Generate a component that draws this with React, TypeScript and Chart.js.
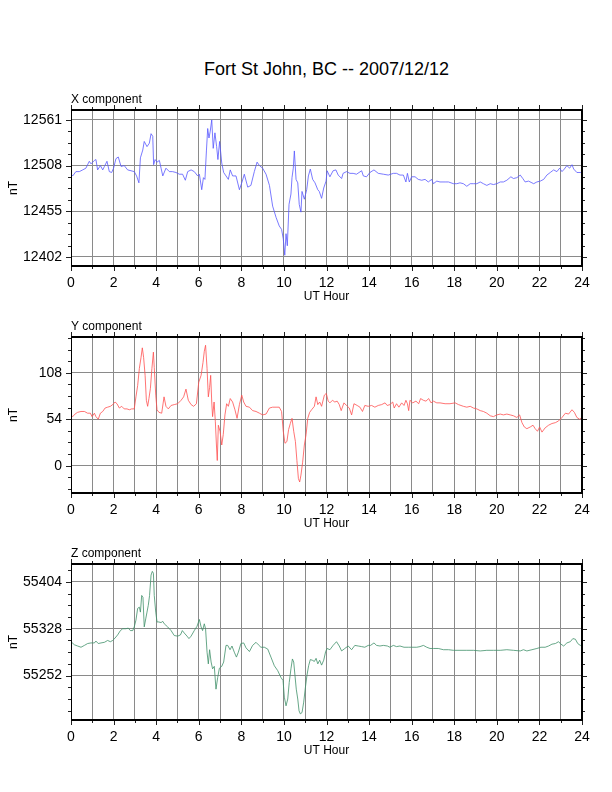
import React, { useEffect, useRef } from "react";
import { Chart, registerables } from "chart.js";

Chart.register(...registerables);
Chart.defaults.font.family = '"Liberation Sans", Arial, Helvetica, sans-serif';
Chart.defaults.color = "#000";

const TITLE = "Fort St John, BC -- 2007/12/12";

// [UT hour, nT]
const xComponent: [number, number][] = [
  [0, 12498], [0.08, 12496], [0.23, 12501], [0.39, 12501], [0.55, 12503], [0.7, 12505], [0.86, 12513],
  [0.94, 12510], [1.1, 12514], [1.17, 12515], [1.25, 12503], [1.38, 12508], [1.49, 12503], [1.57, 12507],
  [1.69, 12513], [1.8, 12501], [1.91, 12500], [2.0, 12505], [2.11, 12516], [2.22, 12518], [2.35, 12507],
  [2.5, 12508], [2.66, 12503], [2.82, 12502], [2.97, 12501], [3.08, 12496], [3.19, 12488], [3.26, 12517],
  [3.37, 12526], [3.44, 12536], [3.57, 12530], [3.68, 12534], [3.76, 12545], [3.84, 12542], [3.88, 12509],
  [3.95, 12515], [4.04, 12512], [4.15, 12514], [4.23, 12505], [4.31, 12496], [4.46, 12505], [4.62, 12501],
  [4.77, 12501], [4.93, 12500], [5.09, 12498], [5.24, 12498], [5.37, 12491], [5.48, 12501], [5.64, 12503],
  [5.79, 12501], [5.95, 12496], [6.03, 12498], [6.14, 12480], [6.22, 12494], [6.29, 12492], [6.36, 12525],
  [6.42, 12551], [6.48, 12540], [6.54, 12548], [6.61, 12561], [6.68, 12528], [6.76, 12546], [6.84, 12530],
  [6.9, 12515], [6.98, 12536], [7.08, 12511], [7.17, 12500], [7.28, 12496], [7.39, 12492], [7.48, 12503],
  [7.59, 12496], [7.75, 12496], [7.91, 12480], [8.02, 12488], [8.14, 12498], [8.3, 12483], [8.45, 12485],
  [8.61, 12501], [8.74, 12512], [8.85, 12508], [9.0, 12505], [9.16, 12498], [9.32, 12485], [9.47, 12461],
  [9.63, 12448], [9.78, 12438], [9.89, 12434], [9.97, 12423], [10.04, 12404], [10.1, 12429], [10.16, 12415],
  [10.24, 12463], [10.33, 12475], [10.38, 12494], [10.44, 12505], [10.49, 12525], [10.57, 12492],
  [10.65, 12488], [10.72, 12463], [10.8, 12454], [10.85, 12478], [10.96, 12469], [11.07, 12480],
  [11.15, 12496], [11.24, 12504], [11.35, 12492], [11.46, 12488], [11.59, 12480], [11.66, 12478],
  [11.77, 12470], [11.87, 12482], [11.98, 12490], [12.03, 12502], [12.16, 12495], [12.31, 12502],
  [12.44, 12503], [12.55, 12497], [12.71, 12493], [12.78, 12499], [12.94, 12501], [13.1, 12499],
  [13.25, 12499], [13.41, 12498], [13.65, 12502], [13.73, 12496], [13.88, 12495], [14.04, 12500],
  [14.23, 12503], [14.43, 12499], [14.67, 12498], [14.9, 12497], [15.14, 12499], [15.29, 12499],
  [15.45, 12497], [15.61, 12497], [15.73, 12489], [15.8, 12499], [15.89, 12489], [16.0, 12495],
  [16.16, 12495], [16.31, 12492], [16.47, 12491], [16.63, 12492], [16.78, 12489], [16.94, 12492],
  [17.02, 12487], [17.18, 12490], [17.33, 12489], [17.57, 12489], [17.73, 12489], [17.96, 12487],
  [18.12, 12487], [18.27, 12488], [18.43, 12487], [18.59, 12484], [18.75, 12487], [18.9, 12487],
  [19.06, 12487], [19.22, 12489], [19.37, 12487], [19.53, 12485], [19.69, 12487], [19.84, 12486],
  [20.0, 12487], [20.16, 12489], [20.31, 12489], [20.47, 12491], [20.66, 12495], [20.78, 12493],
  [20.94, 12494], [21.1, 12497], [21.22, 12493], [21.33, 12489], [21.49, 12490], [21.65, 12488],
  [21.73, 12487], [21.88, 12489], [22.04, 12490], [22.2, 12492], [22.35, 12497], [22.51, 12500],
  [22.67, 12503], [22.82, 12501], [22.95, 12505], [23.06, 12501], [23.17, 12504], [23.29, 12508],
  [23.42, 12505], [23.53, 12509], [23.61, 12504], [23.76, 12500], [23.92, 12500], [24.0, 12500],
];

const yComponent: [number, number][] = [
  [0, 59], [0.08, 57], [0.19, 60], [0.31, 62], [0.47, 63], [0.63, 63], [0.78, 61], [0.91, 61], [0.99, 57],
  [1.1, 61], [1.17, 57], [1.28, 54], [1.38, 61], [1.49, 63], [1.6, 67], [1.72, 68], [1.85, 69], [1.96, 71],
  [2.07, 74], [2.16, 72], [2.27, 67], [2.38, 69], [2.5, 66], [2.63, 66], [2.74, 65], [2.85, 66], [2.97, 66],
  [3.05, 80], [3.13, 93], [3.21, 113], [3.29, 126], [3.35, 137], [3.41, 126], [3.48, 105], [3.54, 76],
  [3.6, 69], [3.66, 78], [3.73, 90], [3.8, 113], [3.87, 132], [3.91, 114], [3.98, 82], [4.04, 65],
  [4.13, 62], [4.26, 61], [4.37, 80], [4.46, 69], [4.57, 66], [4.7, 70], [4.85, 71], [5.01, 72], [5.17, 76],
  [5.29, 80], [5.4, 89], [5.51, 76], [5.64, 71], [5.76, 69], [5.89, 72], [6.0, 97], [6.11, 105], [6.2, 120],
  [6.26, 133], [6.32, 140], [6.39, 113], [6.45, 80], [6.51, 91], [6.56, 105], [6.61, 74], [6.65, 57],
  [6.72, 74], [6.78, 51], [6.83, 24], [6.87, 6], [6.92, 47], [7.0, 40], [7.08, 24], [7.15, 36], [7.23, 59],
  [7.31, 72], [7.39, 69], [7.48, 78], [7.59, 74], [7.7, 65], [7.8, 55], [7.91, 71], [8.02, 82], [8.11, 74],
  [8.22, 69], [8.38, 68], [8.53, 64], [8.69, 63], [8.85, 61], [9.0, 59], [9.16, 60], [9.32, 67], [9.47, 68],
  [9.63, 68], [9.78, 68], [9.89, 63], [9.97, 40], [10.05, 26], [10.14, 28], [10.22, 42], [10.3, 49],
  [10.38, 55], [10.46, 40], [10.54, 28], [10.61, 6], [10.68, -15], [10.74, -19], [10.8, -11], [10.88, 4],
  [10.96, 24], [11.04, 36], [11.12, 55], [11.21, 62], [11.3, 65], [11.43, 69], [11.51, 80], [11.59, 71],
  [11.68, 74], [11.77, 69], [11.9, 82], [11.99, 84], [12.08, 75], [12.16, 73], [12.28, 76], [12.39, 74],
  [12.5, 75], [12.6, 71], [12.69, 64], [12.82, 73], [12.94, 70], [13.07, 67], [13.18, 59], [13.29, 72],
  [13.44, 70], [13.57, 68], [13.69, 63], [13.8, 70], [13.96, 69], [14.12, 70], [14.27, 68], [14.43, 70],
  [14.59, 71], [14.75, 73], [14.85, 70], [14.98, 71], [15.11, 74], [15.18, 67], [15.29, 72], [15.4, 68],
  [15.53, 73], [15.64, 70], [15.73, 76], [15.8, 72], [15.86, 64], [15.92, 76], [16.05, 73], [16.2, 75],
  [16.33, 72], [16.42, 78], [16.55, 76], [16.67, 75], [16.8, 78], [16.91, 73], [17.02, 75], [17.18, 73],
  [17.33, 73], [17.57, 72], [17.8, 72], [18.04, 73], [18.2, 71], [18.43, 69], [18.59, 68], [18.75, 69],
  [18.9, 67], [19.06, 66], [19.22, 64], [19.37, 63], [19.53, 61], [19.69, 58], [19.84, 57], [20.0, 59],
  [20.16, 60], [20.31, 59], [20.47, 60], [20.63, 59], [20.78, 58], [20.94, 56], [21.07, 59], [21.18, 50],
  [21.29, 45], [21.41, 43], [21.57, 45], [21.7, 47], [21.8, 43], [21.91, 40], [22.01, 45], [22.12, 39],
  [22.27, 44], [22.43, 47], [22.59, 49], [22.75, 50], [22.9, 52], [23.06, 56], [23.22, 61], [23.37, 60],
  [23.53, 65], [23.64, 62], [23.76, 56], [23.89, 54], [24.0, 56],
];

const zComponent: [number, number][] = [
  [0, 55307], [0.16, 55302], [0.31, 55300], [0.47, 55298], [0.63, 55301], [0.78, 55304], [0.94, 55305],
  [1.1, 55305], [1.17, 55308], [1.28, 55304], [1.41, 55305], [1.57, 55306], [1.72, 55309], [1.85, 55307],
  [1.96, 55309], [2.07, 55313], [2.19, 55318], [2.32, 55325], [2.43, 55328], [2.58, 55328], [2.69, 55329],
  [2.79, 55325], [2.9, 55325], [2.97, 55331], [3.05, 55342], [3.13, 55361], [3.21, 55363], [3.26, 55355],
  [3.32, 55382], [3.38, 55379], [3.44, 55331], [3.51, 55344], [3.57, 55355], [3.63, 55366], [3.69, 55382],
  [3.76, 55415], [3.82, 55421], [3.87, 55418], [3.91, 55382], [3.98, 55355], [4.04, 55339], [4.12, 55339],
  [4.23, 55338], [4.31, 55340], [4.38, 55336], [4.54, 55331], [4.7, 55325], [4.85, 55317], [5.01, 55316],
  [5.14, 55318], [5.23, 55325], [5.32, 55321], [5.45, 55316], [5.54, 55312], [5.64, 55316], [5.79, 55325],
  [5.92, 55332], [6.03, 55343], [6.11, 55331], [6.18, 55325], [6.26, 55336], [6.32, 55328], [6.39, 55290],
  [6.45, 55271], [6.51, 55294], [6.58, 55274], [6.65, 55263], [6.73, 55267], [6.81, 55230], [6.89, 55249],
  [6.97, 55264], [7.08, 55267], [7.17, 55274], [7.28, 55301], [7.36, 55301], [7.47, 55294], [7.56, 55300],
  [7.67, 55290], [7.77, 55282], [7.86, 55290], [7.98, 55304], [8.11, 55305], [8.22, 55297], [8.38, 55291],
  [8.53, 55301], [8.69, 55306], [8.8, 55302], [8.92, 55298], [9.08, 55298], [9.24, 55295], [9.39, 55282],
  [9.55, 55268], [9.71, 55260], [9.86, 55249], [9.96, 55244], [10.02, 55217], [10.1, 55203], [10.18, 55214],
  [10.25, 55241], [10.33, 55263], [10.4, 55279], [10.46, 55274], [10.52, 55252], [10.58, 55230],
  [10.65, 55214], [10.71, 55195], [10.77, 55190], [10.85, 55192], [10.93, 55209], [11.01, 55233],
  [11.08, 55252], [11.16, 55268], [11.24, 55278], [11.33, 55277], [11.43, 55275], [11.51, 55280],
  [11.59, 55271], [11.68, 55277], [11.77, 55269], [11.87, 55277], [11.96, 55291], [12.03, 55296],
  [12.16, 55294], [12.31, 55301], [12.47, 55307], [12.6, 55300], [12.71, 55292], [12.86, 55296],
  [13.02, 55300], [13.18, 55294], [13.33, 55301], [13.49, 55300], [13.65, 55299], [13.8, 55298],
  [13.96, 55301], [14.07, 55301], [14.23, 55305], [14.35, 55301], [14.51, 55300], [14.67, 55301],
  [14.86, 55300], [14.98, 55298], [15.14, 55301], [15.29, 55299], [15.45, 55300], [15.64, 55298],
  [15.84, 55298], [16.0, 55298], [16.24, 55298], [16.39, 55299], [16.55, 55301], [16.71, 55298],
  [16.86, 55296], [17.02, 55296], [17.25, 55296], [17.49, 55294], [17.73, 55294], [17.96, 55293],
  [18.27, 55293], [18.59, 55293], [18.9, 55293], [19.22, 55292], [19.53, 55293], [19.84, 55293],
  [20.16, 55293], [20.47, 55294], [20.78, 55293], [21.1, 55292], [21.25, 55294], [21.41, 55292],
  [21.65, 55294], [21.88, 55296], [22.07, 55298], [22.27, 55298], [22.43, 55300], [22.59, 55303],
  [22.75, 55304], [22.9, 55307], [23.01, 55303], [23.14, 55300], [23.29, 55305], [23.45, 55307],
  [23.57, 55312], [23.69, 55311], [23.8, 55304], [23.92, 55301], [24.0, 55301],
];

// labelled y ticks and visible axis range per panel
const xTicks = [12402, 12455, 12508, 12561];
const yTicks = [0, 54, 108];
const zTicks = [55252, 55328, 55404];
const xRange = [12391.5, 12572.5];
const yRange = [-31.8, 149.6];
const zRange = [55180, 55433];

const CANVAS_H = 227;
const PAD_TOP = 30;
const PLOT_H = 156;
const GRID = "#8a8a8a";

const framePlugin = {
  id: "gsmFrame",
  afterDraw(chart: any, _args: any, opts: any) {
    const { ctx, chartArea, scales } = chart;
    const { left, right, top, bottom } = chartArea;
    const xs = scales.x;
    const ys = scales.y;
    const seg = (x1: number, y1: number, x2: number, y2: number) => {
      ctx.beginPath();
      ctx.moveTo(x1, y1);
      ctx.lineTo(x2, y2);
      ctx.stroke();
    };
    ctx.save();
    ctx.strokeStyle = "#222";
    ctx.lineWidth = 1;
    // hour ticks, top and bottom, outward
    for (let h = 0; h <= 24; h++) {
      const px = Math.round(xs.getPixelForValue(h)) + 0.5;
      const len = h % 2 === 0 ? 5 : 3;
      seg(px, top, px, top - len);
      seg(px, bottom, px, bottom + len);
    }
    // nT ticks, left and right, four minor steps per major
    const majors: number[] = opts.majors;
    const step = (majors[1] - majors[0]) / 4;
    let v = majors[0] - step * Math.floor((majors[0] - ys.min) / step);
    for (; v <= ys.max + 1e-6; v += step) {
      const py = Math.round(ys.getPixelForValue(v)) + 0.5;
      const isMajor = majors.some((m) => Math.abs(m - v) < 1e-6);
      const len = isMajor ? 5 : 3;
      seg(left, py, left - len, py);
      seg(right, py, right + len, py);
    }
    // frame
    ctx.strokeStyle = "#000";
    ctx.lineWidth = 1;
    seg(left + 0.5, top, left + 0.5, bottom);
    ctx.lineWidth = 2;
    seg(left, top, right + 1, top);
    seg(left, bottom, right + 1, bottom);
    seg(right, top, right, bottom);
    // panel label
    ctx.fillStyle = "#000";
    ctx.font = '12px "Liberation Sans", Arial, sans-serif';
    ctx.textAlign = "left";
    ctx.textBaseline = "alphabetic";
    ctx.fillText(opts.label, left, top - 7);
    ctx.restore();
  },
};

type PanelProps = {
  top: number;
  label: string;
  series: [number, number][];
  color: string;
  majors: number[];
  range: number[];
};

function Panel({ top, label, series, color, majors, range }: PanelProps) {
  const ref = useRef<HTMLCanvasElement>(null);

  useEffect(() => {
    const ctx = ref.current?.getContext("2d");
    if (!ctx) return;

    const chart = new Chart(ctx, {
      type: "line",
      data: {
        datasets: [
          {
            data: series.map(([h, nt]) => ({ x: h, y: nt })),
            borderColor: color,
            borderWidth: 0.8,
            pointRadius: 0,
            tension: 0,
            fill: false,
          },
        ],
      },
      options: {
        animation: false,
        responsive: false,
        events: [],
        layout: { padding: { top: PAD_TOP, right: 30, left: 0, bottom: 0 } },
        plugins: {
          legend: { display: false },
          tooltip: { enabled: false },
          gsmFrame: { label, majors },
        } as any,
        scales: {
          x: {
            type: "linear",
            min: 0,
            max: 24,
            border: { display: false },
            grid: { color: GRID, lineWidth: 1, drawTicks: false },
            ticks: {
              stepSize: 1,
              padding: 9,
              maxRotation: 0,
              autoSkip: false,
              font: { size: 14 },
              color: "#000",
              callback: (val: any) => (Number(val) % 2 === 0 ? String(val) : ""),
            },
            title: {
              display: true,
              text: "UT Hour",
              font: { size: 12 },
              color: "#000",
              padding: { top: 0, bottom: 3 },
            },
            afterFit: (s: any) => {
              s.height = CANVAS_H - PAD_TOP - PLOT_H;
            },
          },
          y: {
            type: "linear",
            min: range[0],
            max: range[1],
            border: { display: false },
            grid: { color: GRID, lineWidth: 1, drawTicks: false },
            afterBuildTicks: (s: any) => {
              s.ticks = majors.map((m) => ({ value: m }));
            },
            ticks: {
              padding: 9,
              font: { size: 14 },
              color: "#000",
              callback: (val: any) => String(val),
            },
            title: {
              display: true,
              text: "nT",
              font: { size: 12 },
              color: "#000",
              padding: { top: 6, bottom: 0 },
            },
            afterFit: (s: any) => {
              s.width = 71;
            },
          },
        },
      },
      plugins: [framePlugin],
    } as any);

    return () => chart.destroy();
  }, [label, series, color, majors, range]);

  return (
    <canvas
      ref={ref}
      width={612}
      height={CANVAS_H}
      style={{ position: "absolute", left: 0, top, width: 612, height: CANVAS_H }}
    />
  );
}

export default function App() {
  return (
    <div
      style={{
        position: "absolute",
        left: 0,
        top: 0,
        width: 612,
        height: 792,
        background: "#fff",
        overflow: "hidden",
      }}
    >
      <div
        style={{
          position: "absolute",
          left: 71,
          top: 60,
          width: 511,
          textAlign: "center",
          font: '18px/18px "Liberation Sans", Arial, sans-serif',
          color: "#000",
        }}
      >
        {TITLE}
      </div>
      <Panel top={80} label="X component" series={xComponent} color="#5858ff" majors={xTicks} range={xRange} />
      <Panel top={307} label="Y component" series={yComponent} color="#ff5050" majors={yTicks} range={yRange} />
      <Panel top={534} label="Z component" series={zComponent} color="#40906a" majors={zTicks} range={zRange} />
    </div>
  );
}
